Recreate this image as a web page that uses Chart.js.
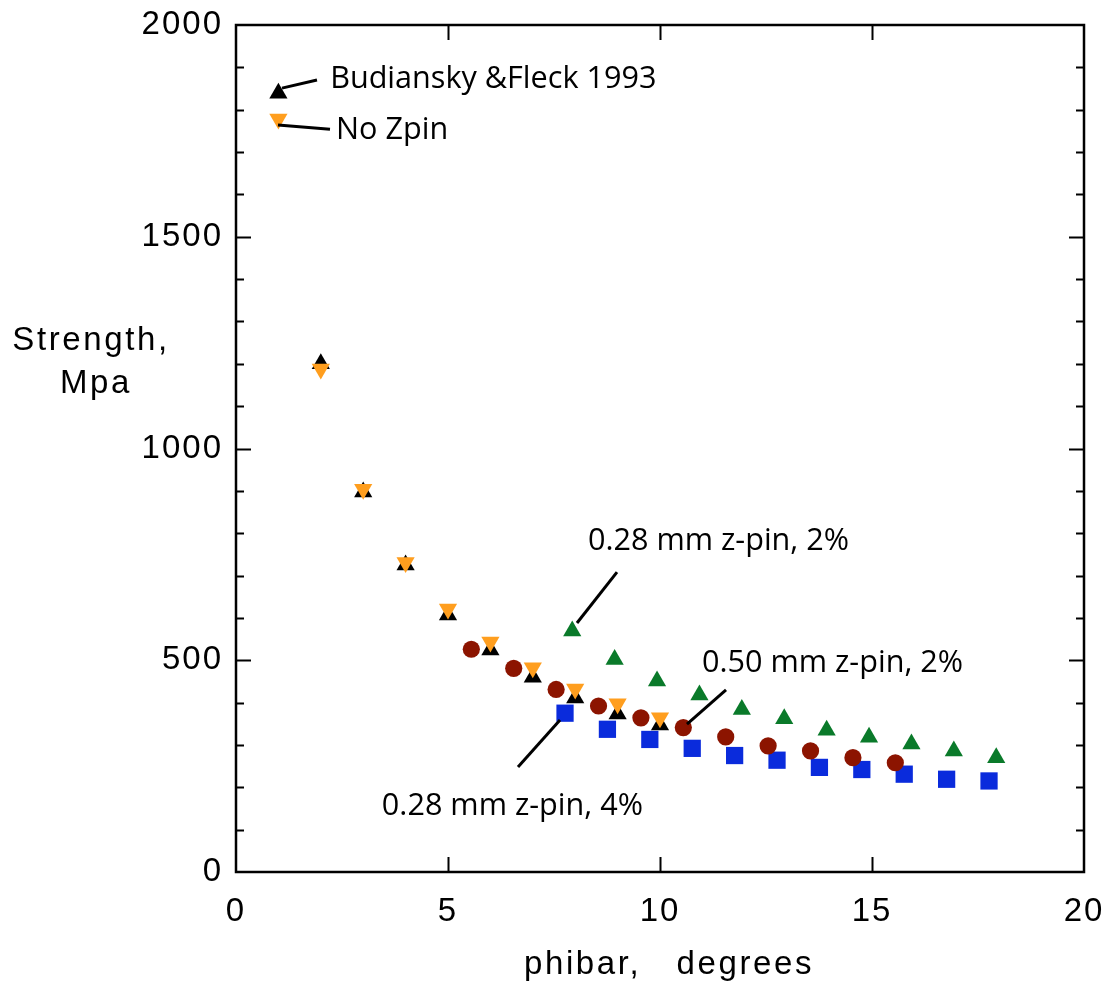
<!DOCTYPE html>
<html><head><meta charset="utf-8">
<script src="https://cdn.jsdelivr.net/npm/chart.js@4.4.1/dist/chart.umd.min.js"></script>
<style>html,body{margin:0;padding:0;background:#fff;overflow:hidden}canvas{display:block}</style>
</head><body><canvas id="c" width="1112" height="994" style="width:1112px;height:994px"></canvas>
<script>
// ---- data ----
const bfX = [2, 3, 4, 5, 6, 7, 8, 9, 10];
const bfY = [1200, 897, 725, 607, 524, 460, 411, 373, 347];
const noZpinX = [2, 3, 4, 5, 6, 7, 8, 9, 10];
const noZpinY = [1188, 904, 731, 621, 543, 482, 432, 397, 364];
const pin050X = [5.55, 6.55, 7.55, 8.55, 9.55, 10.55, 11.55, 12.55, 13.55, 14.55, 15.55];
const pin050Y = [526, 481, 431, 392, 364, 341, 319, 298, 286, 270, 258];
const pin028p4X = [7.76, 8.76, 9.76, 10.76, 11.76, 12.76, 13.76, 14.76, 15.76, 16.76, 17.76];
const pin028p4Y = [375, 337, 313, 292, 275, 264, 247, 242, 231, 219, 215];
const pin028p2X = [7.93, 8.93, 9.93, 10.93, 11.93, 12.93, 13.93, 14.93, 15.93, 16.93, 17.93];
const pin028p2Y = [569, 502, 451, 418, 384, 362, 335, 318, 302, 286, 270];
const keyBfX = [1], keyBfY = [1839];
const keyNoX = [1], keyNoY = [1778];
const xTicks = [0, 5, 10, 15, 20];
const yTicks = [0, 500, 1000, 1500, 2000];
const xTitle = 'phibar,   degrees';
const yTitleLines = ['Strength,', 'Mpa'];

// annotations: text (left, baseline) and leader lines, in data units
const notes = [
  {text: 'Budiansky &Fleck 1993', x: 2.22, y: 1851, line: [1.085, 1851, 1.91, 1870]},
  {text: 'No Zpin', x: 2.36, y: 1731, line: [0.99, 1764, 2.217, 1754]},
  {text: '0.28 mm z-pin, 2%', x: 8.30, y: 760, line: [8.986, 708, 8.042, 588]},
  {text: '0.50 mm z-pin, 2%', x: 10.99, y: 472, line: [11.557, 430, 10.637, 349]},
  {text: '0.28 mm z-pin, 4%', x: 3.44, y: 135, line: [6.651, 248, 7.642, 359]}
];

const zip = (xs, ys) => xs.map((x, i) => ({x, y: ys[i]}));
const AXIS_FONT = 'Liberation Sans';
const AXIS_SIZE = 33;
const SPACING = '2px';
const TITLE_SPACING = '2.6px';

const frame = {
  id: 'frame',
  beforeDraw(chart) { chart.ctx.letterSpacing = SPACING; },
  beforeDatasetsDraw(chart) {
    const {ctx, chartArea: {left, right, top, bottom}, scales: {x, y}} = chart;
    ctx.save();
    ctx.strokeStyle = '#000';
    ctx.lineWidth = 2;
    ctx.beginPath();
    for (let v = 100; v < 2000; v += 100) {
      const py = Math.round(y.getPixelForValue(v)) + 0.5;
      const len = v % 500 === 0 ? 15 : 8;
      ctx.moveTo(left, py); ctx.lineTo(left + len, py);
      ctx.moveTo(right, py); ctx.lineTo(right - len, py);
    }
    for (const v of [5, 10, 15]) {
      const px = Math.round(x.getPixelForValue(v)) + 0.5;
      ctx.moveTo(px, bottom); ctx.lineTo(px, bottom - 15);
      ctx.moveTo(px, top); ctx.lineTo(px, top + 15);
    }
    ctx.stroke();
    ctx.lineWidth = 2.5;
    ctx.strokeRect(left, top, right - left, bottom - top);
    ctx.restore();
  },
  afterDraw(chart) {
    const {ctx, scales: {x, y}} = chart;
    ctx.save();
    // axis titles
    ctx.letterSpacing = TITLE_SPACING;
    ctx.fillStyle = '#000';
    ctx.font = AXIS_SIZE + 'px "' + AXIS_FONT + '"';
    ctx.textAlign = 'center';
    ctx.textBaseline = 'alphabetic';
    ctx.fillText(xTitle, 669, 974);
    ctx.fillText(yTitleLines[0], 91, 350);
    ctx.fillText(yTitleLines[1], 96, 393);
    // annotations
    ctx.letterSpacing = '0px';
    ctx.font = '30.6px "Open Sans"';
    ctx.textAlign = 'left';
    ctx.lineWidth = 3;
    ctx.strokeStyle = '#000';
    for (const n of notes) {
      ctx.fillText(n.text, x.getPixelForValue(n.x), y.getPixelForValue(n.y));
      const [x1, y1, x2, y2] = n.line;
      ctx.beginPath();
      ctx.moveTo(x.getPixelForValue(x1), y.getPixelForValue(y1));
      ctx.lineTo(x.getPixelForValue(x2), y.getPixelForValue(y2));
      ctx.stroke();
    }
    ctx.restore();
  }
};

const ORANGE = '#FF9E1E', BLACK = '#000000', RED = '#8C1400', BLUE = '#0A2BDC', GREEN = '#0A7A2A';
const ds = (data, color, style, r, rot) => ({
  data, pointStyle: style, pointRadius: r, pointHoverRadius: r, rotation: rot || 0,
  backgroundColor: color, borderColor: color, borderWidth: 0, showLine: false
});

new Chart(document.getElementById('c'), {
  type: 'scatter',
  data: {
    datasets: [
      ds(zip(keyNoX, keyNoY), ORANGE, 'triangle', 10.5, 180),
      ds(zip(noZpinX, noZpinY), ORANGE, 'triangle', 10.5, 180),
      ds(zip(keyBfX, keyBfY), BLACK, 'triangle', 10.5),
      ds(zip(bfX, bfY), BLACK, 'triangle', 10.5),
      ds(zip(pin050X, pin050Y), RED, 'circle', 8.6),
      ds(zip(pin028p4X, pin028p4Y), BLUE, 'rect', 12.2),
      ds(zip(pin028p2X, pin028p2Y), GREEN, 'triangle', 10.5)
    ]
  },
  options: {
    responsive: false,
    animation: false,
    events: [],
    layout: {padding: {top: 25, right: 28, left: 0, bottom: 0}},
    plugins: {legend: {display: false}, tooltip: {enabled: false}},
    scales: {
      x: {
        type: 'linear', min: 0, max: 20,
        grid: {display: false, drawTicks: false},
        border: {display: false},
        afterFit(s) { s.height = 122; s.paddingLeft = 0; s.paddingRight = 0; },
        afterBuildTicks(s) { s.ticks = xTicks.map(v => ({value: v})); },
        ticks: {color: '#000', font: {family: AXIS_FONT, size: AXIS_SIZE}, padding: 20, maxRotation: 0, autoSkip: false,
                callback: v => String(v)}
      },
      y: {
        type: 'linear', min: 0, max: 2000,
        grid: {display: false, drawTicks: false},
        border: {display: false},
        afterFit(s) { s.width = 236; s.paddingTop = 0; s.paddingBottom = 0; },
        afterBuildTicks(s) { s.ticks = yTicks.map(v => ({value: v})); },
        ticks: {color: '#000', font: {family: AXIS_FONT, size: AXIS_SIZE}, padding: 13, autoSkip: false,
                callback: v => String(v)}
      }
    }
  },
  plugins: [frame]
});
</script>
</body></html>
